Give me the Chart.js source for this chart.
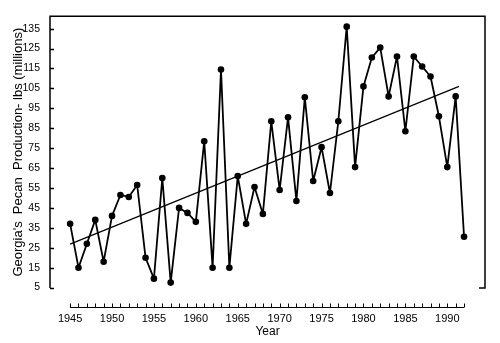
<!DOCTYPE html>
<html>
<head>
    <title>Georgia Pecan Production</title>
    <meta http-equiv="content-type" content="text/html;charset=UTF-8">
    <script src="https://cdn.jsdelivr.net/npm/chart.js"></script>
    <style>
        html, body {
            margin: 0;
            padding: 0;
            background: white;
        }

        #chartBox {
            width: 500px;
            height: 343px;
        }
    </style>
</head>
<body>
<div id="chartBox">
    <canvas id="pecanChart" width="500" height="343"></canvas>
</div>
</body>
<script>
    // 年份与产量 (百万磅)
    const years = [];
    for (let y = 1945; y <= 1992; y++) years.push(y);
    const production = [
        37, 15, 27, 39, 18, 41, 51.5, 50.5, 56.5, 20,
        9.5, 60, 7.5, 45, 42.5, 38, 78.5, 15, 114.5, 15,
        61, 37, 55.5, 42, 88.5, 54, 90.5, 48.5, 100.5, 58.5,
        75.5, 52.5, 88.5, 136, 65.5, 106, 120.5, 125.5, 101, 121,
        83.5, 121, 116, 111, 91, 65.5, 101, 30.5
    ];
    // 趋势线的两个端点
    const trendYears = [1945, 1991.4];
    const trendValues = [26.8, 106];

    const yTicks = [5, 15, 25, 35, 45, 55, 65, 75, 85, 95, 105, 115, 125, 135];
    const xTicks = [1945, 1950, 1955, 1960, 1965, 1970, 1975, 1980, 1985, 1990];

    const fontFamily = '"Liberation Sans", Arial, sans-serif';

    // 画框线、y轴内刻度以及下方的年份刻度条
    const framePlugin = {
        id: 'frame',
        afterDraw(chart) {
            const ctx = chart.ctx;
            const a = chart.chartArea;
            const xs = chart.scales.x;
            const ys = chart.scales.y;
            ctx.save();
            ctx.strokeStyle = '#000';
            ctx.lineWidth = 1.5;
            ctx.beginPath();
            ctx.moveTo(a.left, a.bottom);
            ctx.lineTo(a.left, a.top);
            ctx.lineTo(a.right, a.top);
            ctx.lineTo(a.right, a.bottom);
            ctx.lineTo(a.right - 6, a.bottom);
            ctx.stroke();

            ctx.lineWidth = 1.3;
            ctx.beginPath();
            yTicks.forEach(v => {
                const py = Math.round(ys.getPixelForValue(v)) + 0.5;
                ctx.moveTo(a.left, py);
                ctx.lineTo(a.left + 4, py);
            });
            ctx.stroke();

            // 年份刻度条
            const base = 307.5;
            ctx.lineWidth = 1;
            ctx.beginPath();
            ctx.moveTo(xs.getPixelForValue(years[0]), base);
            ctx.lineTo(xs.getPixelForValue(years[years.length - 1]), base);
            years.forEach(yr => {
                const px = Math.round(xs.getPixelForValue(yr)) + 0.5;
                ctx.moveTo(px, base);
                ctx.lineTo(px, base - 4);
            });
            ctx.stroke();
            ctx.restore();
        }
    };

    const ctx = document.getElementById('pecanChart').getContext('2d');
    new Chart(ctx, {
        type: 'line',
        data: {
            datasets: [{
                data: years.map((yr, i) => ({x: yr, y: production[i]})),
                borderColor: '#000',
                borderWidth: 1.8,
                borderJoinStyle: 'round',
                backgroundColor: '#000',
                pointBackgroundColor: '#000',
                pointBorderColor: '#000',
                pointRadius: 3.3,
                pointBorderWidth: 0,
                tension: 0
            }, {
                data: trendYears.map((yr, i) => ({x: yr, y: trendValues[i]})),
                borderColor: '#000',
                borderWidth: 1.2,
                pointRadius: 0,
                tension: 0
            }]
        },
        options: {
            responsive: false,
            animation: false,
            devicePixelRatio: 1,
            layout: {
                padding: {left: 0, top: 8, right: 15, bottom: 0}
            },
            plugins: {
                legend: {display: false},
                tooltip: {enabled: false}
            },
            scales: {
                x: {
                    type: 'linear',
                    min: 1942.6,
                    max: 1994.5,
                    afterBuildTicks: (scale) => {
                        scale.ticks = xTicks.map(v => ({value: v}));
                    },
                    afterFit: (scale) => {
                        scale.height = 55;
                    },
                    grid: {display: false, drawTicks: false},
                    border: {display: false},
                    ticks: {
                        color: '#000',
                        padding: 24,
                        maxRotation: 0,
                        autoSkip: false,
                        font: {family: fontFamily, size: 11},
                        callback: (v) => String(v)
                    },
                    title: {
                        display: true,
                        text: 'Year',
                        color: '#000',
                        font: {family: fontFamily, size: 12},
                        padding: {top: 0, bottom: 4}
                    }
                },
                y: {
                    min: 4.8,
                    max: 141.2,
                    afterBuildTicks: (scale) => {
                        scale.ticks = yTicks.map(v => ({value: v}));
                    },
                    afterFit: (scale) => {
                        scale.width = 50;
                    },
                    grid: {display: false, drawTicks: false},
                    border: {display: false},
                    ticks: {
                        color: '#000',
                        padding: 10,
                        autoSkip: false,
                        font: {family: fontFamily, size: 10.5}
                    },
                    title: {
                        display: true,
                        text: "Georgia's  Pecan  Production- lbs (millions)",
                        color: '#000',
                        font: {family: fontFamily, size: 13},
                        padding: {top: 11, bottom: 0}
                    }
                }
            }
        },
        plugins: [framePlugin]
    });
</script>
</html>
